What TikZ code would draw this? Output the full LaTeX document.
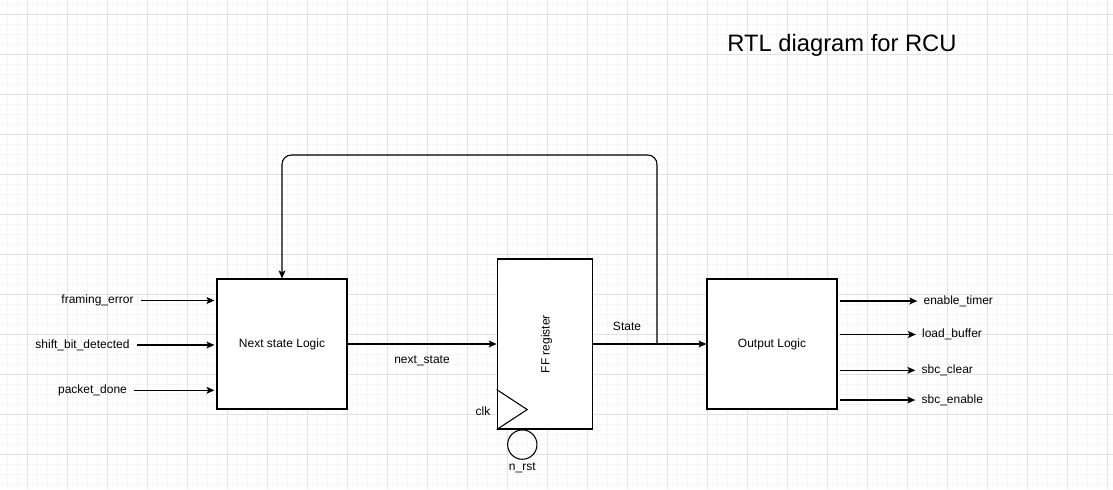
\documentclass[tikz,border=0pt]{standalone}
\usepackage{fontspec}
\setmainfont{Liberation Sans}
\usetikzlibrary{arrows.meta,positioning,calc}
\definecolor{ink}{HTML}{000000}
\definecolor{gridmaj}{HTML}{E1E1E1}
\definecolor{gridmin}{HTML}{F5F5F5}
\tikzset{
  block/.style={draw=ink, fill=white, line width=0.85pt, inner sep=0pt,
                align=center, font=\fontsize{9}{11}\selectfont},
  arrow/.style={-{Stealth[length=6pt,width=5.2pt,inset=1.4pt]}, line width=0.8pt, draw=ink},
  sig/.style={inner sep=1pt, font=\fontsize{9}{11}\selectfont}
}

\begin{document}
\begin{tikzpicture}[x=0.75pt,y=-0.75pt]
        \useasboundingbox (0,0) rectangle (1113,489);
        \fill[white] (0,0) rectangle (1113,489);

        % page grid
        \foreach \x in {7.5,17.5,...,1110} \draw[gridmin,line width=0.6pt] (\x,0) -- (\x,489);
        \foreach \y in {4.5,14.5,...,488} \draw[gridmin,line width=0.6pt] (0,\y) -- (1113,\y);
        \foreach \x in {27.5,67.5,...,1110} \draw[gridmaj,line width=0.6pt] (\x,0) -- (\x,489);
        \foreach \y in {14.5,54.5,...,488} \draw[gridmaj,line width=0.6pt] (0,\y) -- (1113,\y);

        % title
        \node[font=\fontsize{17.8}{21}\selectfont] (title) at (842,45.5) {RTL diagram for RCU};

        % blocks
        \node[block,minimum width=97.5pt,minimum height=97.5pt] (nsl) at (282,344) {\raisebox{-0.8pt}{Next state Logic}};
        \node[block,minimum width=71.25pt,minimum height=127.5pt] (ff) at (544.75,344) {};
        \node[sig,rotate=90] (fftxt) at (546.5,344) {FF register};
        \node[block,minimum width=97.5pt,minimum height=97.5pt] (outl) at (772,344) {\raisebox{-0.8pt}{Output Logic}};

        % clock input and reset bubble
        \draw[line width=0.8pt] ($(ff.south west)+(0,-40)$) -- ($(ff.south west)+(30.5,-20)$) -- (ff.south west);
        \node[sig] (clk) at (483,411) {clk};
        \node[draw=ink,circle,line width=0.8pt,minimum size=22pt,inner sep=0pt] (rstc) at (522.3,444.6) {};
        \node[sig] (nrst) at (522.3,468) {n\_rst};

        % inputs
        \node[sig] (fe) at (97.5,300.5) {framing\_error};
        \node[sig] (sbd) at (82.5,345) {shift\_bit\_detected};
        \node[sig] (pd) at (92.5,390.3) {packet\_done};
        \foreach \s in {fe,sbd,pd}
          \draw[arrow,shorten <=4.5pt,shorten >=1.5pt] (\s.east) -- (\s -| nsl.west);

        % state path
        \draw[arrow] (nsl) -- (ff);
        \node[sig] (nslab) at (422,361) {next\_state};
        \draw[arrow] (ff) -- (outl);
        \node[sig] (stlab) at (627,326) {State};

        % feedback
        \coordinate (tap) at (657,344);
        \coordinate (fbtop) at (470,155);
        \draw[arrow,rounded corners=7pt] (tap) |- (fbtop) -| (nsl.north);

        % outputs
        \node[sig,anchor=west] (et) at (922,301) {enable\_timer};
        \node[sig,anchor=west] (lb) at (920.5,334.5) {load\_buffer};
        \node[sig,anchor=west] (sc) at (920,370.3) {sbc\_clear};
        \node[sig,anchor=west] (se) at (920,400) {sbc\_enable};
        \foreach \s in {et,lb,sc,se}
          \draw[arrow,shorten <=1.5pt,shorten >=3.5pt] (outl.east |- \s.west) -- (\s.west);
\end{tikzpicture}
\end{document}
